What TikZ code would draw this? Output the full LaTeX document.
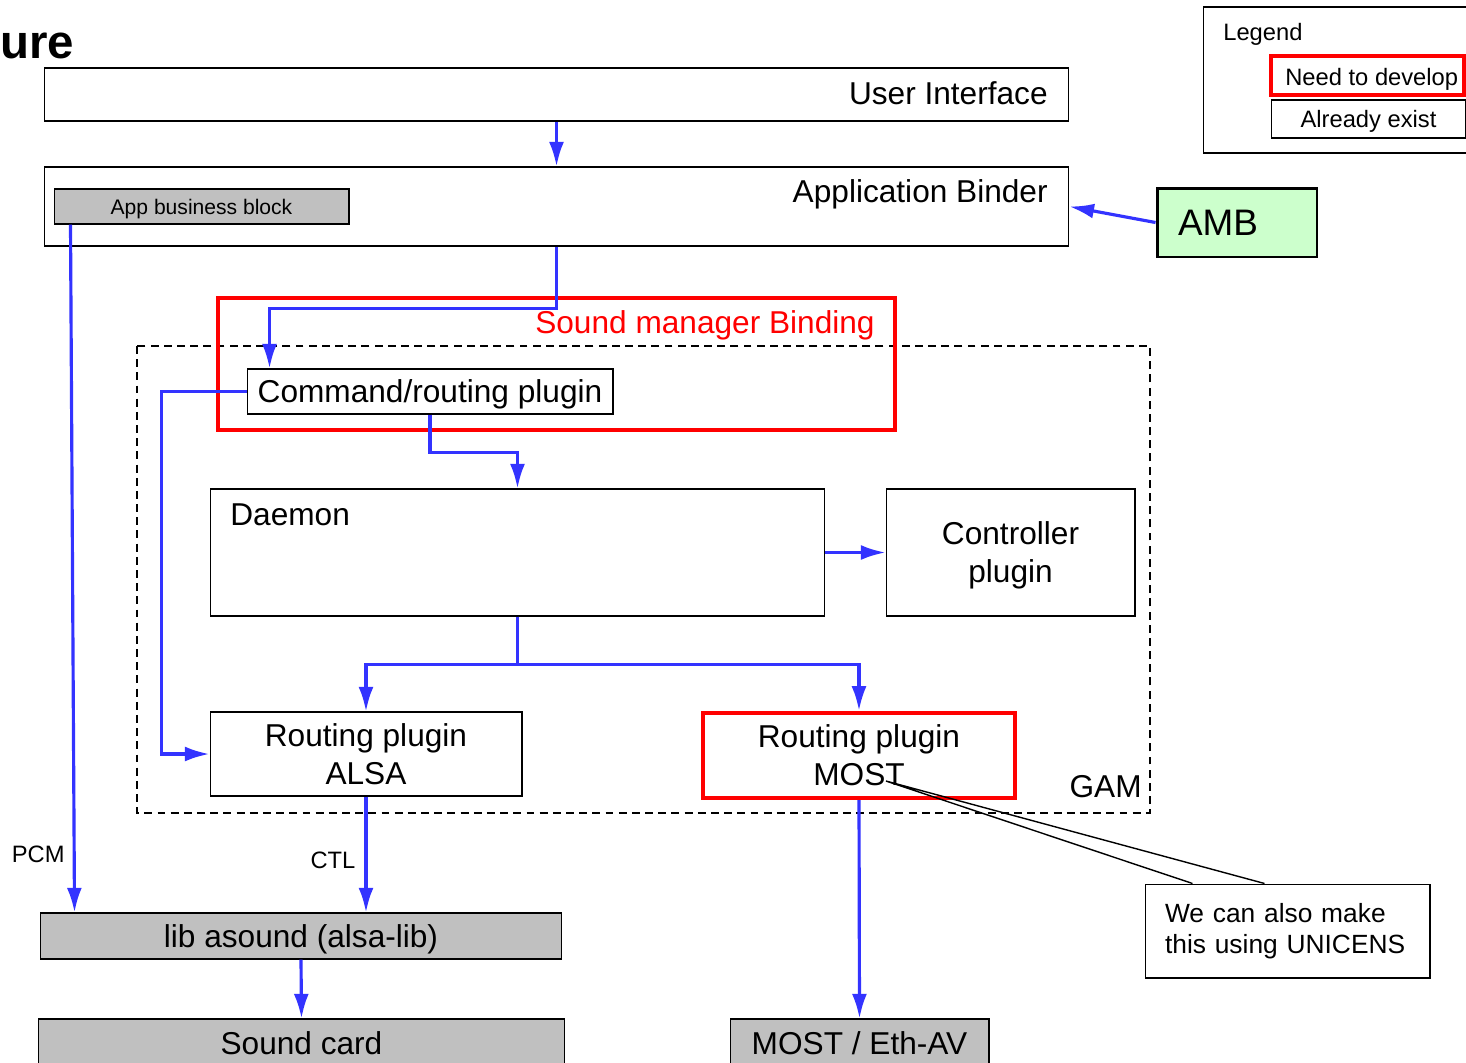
\documentclass[tikz,border=0pt]{standalone}
\usepackage{fontspec}
\setmainfont{Liberation Sans}
\usetikzlibrary{arrows.meta,calc,positioning}

\definecolor{flowblue}{RGB}{51,51,255}
\definecolor{devred}{RGB}{255,0,0}
\definecolor{blockgray}{RGB}{192,192,192}
\definecolor{ambgreen}{RGB}{204,255,204}

\begin{document}
\begin{tikzpicture}[x=0.02cm,y=-0.02cm,>={Latex[length=14pt,width=8.5pt]},
	box/.style={draw,line width=0.6pt,inner sep=0pt,align=center,
		font=\fontsize{18}{21.6}\selectfont},
	flat/.style={text depth=0pt},
	devbox/.style={box,draw=devred,line width=2.5pt},
	graybox/.style={box,flat,fill=blockgray},
	flow/.style={draw=flowblue,line width=1.8pt,->},
	big/.style={inner sep=0pt,font=\fontsize{18}{21.6}\selectfont},
	small/.style={inner sep=0pt,font=\fontsize{13.5}{16}\selectfont}]
	\useasboundingbox (0,0) rectangle (1466,1062);
	\clip (0,0) rectangle (1466,1062);

	\node [anchor=base west,inner sep=0pt,font=\fontsize{27}{32}\bfseries\selectfont] (title) at (0,58) {ure};

	% legend
	\node [box,minimum width=5.54cm,minimum height=2.92cm] (legend) at (1341.5,80) {};
	\node [small,anchor=base west] (legendtxt) at (1223,40) {Legend};
	\node [devbox,line width=2.2pt,minimum width=3.86cm,minimum height=0.78cm] (need) at (1367.5,75.5) {};
	\node [small,anchor=base west] (needtxt) at (1285,85) {Need to develop};
	\node [box,flat,minimum width=3.9cm,minimum height=0.76cm,
		font=\fontsize{13.5}{16}\selectfont] (exist) at (1368.5,119) {Already exist};

	% upper layers
	\node [box,minimum width=20.5cm,minimum height=1.06cm] (ui) at (556.5,94.5) {};
	\node [big,anchor=base east] (uitxt) at (1048,104) {User Interface};
	\node [box,minimum width=20.5cm,minimum height=1.58cm] (binder) at (556.5,206.5) {};
	\node [big,anchor=base east] (bindertxt) at (1048,202) {Application Binder};
	\node [graybox,minimum width=5.9cm,minimum height=0.7cm,
		font=\fontsize{12}{14}\selectfont] (app) at (201.5,206.5) {App business block};
	\node [box,fill=ambgreen,line width=1.7pt,minimum width=3.2cm,minimum height=1.38cm,
		inner xsep=0.42cm,text width=2.36cm,align=left,
		font=\fontsize{21}{25}\selectfont] (amb) at (1237,222.5) {AMB};

	% GAM and the binding
	\draw [dashed,line width=0.8pt,dash pattern=on 4.5pt off 3pt]
		(137,346) rectangle (1150,813);
	\node [big,anchor=base east] (gam) at (1142,797) {GAM};
	\node [devbox,minimum width=13.54cm,minimum height=2.64cm] (smb) at (556.5,364) {};
	\node [big,anchor=base east,text=devred] (smbtxt) at (875,333) {Sound manager Binding};
	\node [box,flat,fill=white,minimum width=7.32cm,minimum height=0.9cm] (cmd) at (430,391.5) {Command/routing plugin};

	\node [box,minimum width=12.3cm,minimum height=2.54cm] (daemon) at (517.5,552.5) {};
	\node [big,anchor=base west] (daemontxt) at (230,525) {Daemon};
	\node [box,flat,minimum width=4.98cm,minimum height=2.54cm] (ctrl) at (1010.5,552.5) {Controller\\plugin};

	\node [box,minimum width=6.24cm,minimum height=1.68cm] (alsa) at (366,754) {Routing plugin\\ALSA};
	\node [devbox,minimum width=6.24cm,minimum height=1.7cm] (most) at (859,755.5) {Routing plugin\\MOST};

	% lower layers
	\node [graybox,minimum width=10.44cm,minimum height=0.92cm] (asound) at (301,936) {lib asound (alsa-lib)};
	\node [graybox,minimum width=10.54cm,minimum height=0.96cm] (sound) at (301.5,1043) {Sound card};
	\node [graybox,minimum width=5.18cm,minimum height=0.96cm] (mostav) at (859.5,1043) {MOST / Eth-AV};

	% arrows
	\draw [flow] (ui.south) -- (binder.north);
	\draw [flow] (amb.west) -- (binder.east);
	\draw [flow] (binder.south) -- ++(0,62) -| ($(cmd.north west)+(23,0)$);
	\draw [flow] (cmd.south) -- ++(0,38) -| (daemon.north);
	\draw [flow] (daemon.east) -- (ctrl.west);
	\draw [flow] (daemon.south) -- ++(0,48) -| (alsa.north);
	\draw [flow] (daemon.south) -- ++(0,48) -| (most.north);
	\draw [flow] (cmd.west) -- ++(-85,0) |- (alsa.west);
	\draw [flow] ($(app.south west)+(17,0)$) -- ($(asound.north west)+(35,0)$)
		node [small,pos=0.916,left=0.16cm] (pcm) {PCM};
	\draw [flow] (alsa.south) -- (alsa.south |- asound.north)
		node [small,pos=0.55,left=0.18cm] (ctl) {CTL};
	\draw [flow] (asound.south) -- (sound.north);
	\draw [flow] (most.south) -- (mostav.north);

	% note
	\node [box,fill=white,minimum width=5.7cm,minimum height=1.88cm,
		inner xsep=0.4cm,text width=4.9cm,align=left,
		font=\fontsize{15}{17.5}\selectfont] (note) at (1287.5,931) {We can also make\\this using UNICENS};
	\coordinate (tip) at (886,781);
	\draw [line width=0.8pt] ($(note.north west)+(48,0)$) -- (tip) -- ($(note.north west)+(120,0)$);

\end{tikzpicture}
\end{document}
